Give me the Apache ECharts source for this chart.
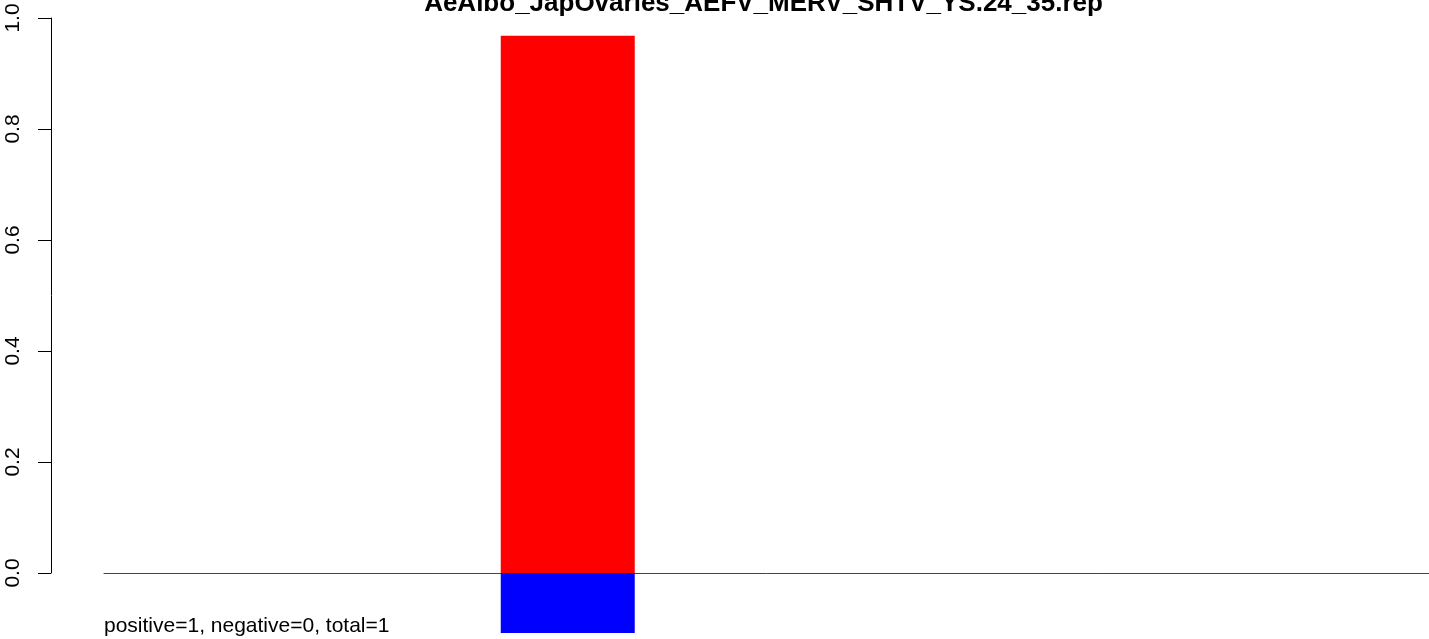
<!DOCTYPE html>
<html>
<head>
<meta charset="utf-8">
<script src="https://cdn.jsdelivr.net/npm/echarts@6/dist/echarts.min.js"></script>
<style>
html,body{margin:0;padding:0;background:#fff;}
#chart{width:1429px;height:639px;}
</style>
</head>
<body>
<div id="chart"></div>
<script>
const titleText = "AeAlbo_JapOvaries_AEFV_MERV_SHTV_YS.24_35.rep";
const footText = "positive=1, negative=0, total=1";
const categories = ["1","2","3","4","5","6","7","8","9","10"];
const positiveValues = [null, null, null, 0.968, null, null, null, null, null, null];
const negativeValues = [null, null, null, -0.108, null, null, null, null, null, null];
const yTicks = [0, 0.2, 0.4, 0.6, 0.8, 1.0];

const FONT = "'Liberation Sans', Arial, Helvetica, sans-serif";
const chart = echarts.init(document.getElementById('chart'), null, {renderer: 'canvas'});

// data axis range so that 0 sits at y=573 and 1 at y=18, grid reaching the bottom edge
const dataMin = -(639 - 573) / 555;

chart.setOption({
  animation: false,
  backgroundColor: '#ffffff',
  graphic: [{
    type: 'text',
    x: 763.5,
    y: 4,
    style: {
      text: titleText,
      font: "bold 26px " + FONT,
      fill: '#000',
      textAlign: 'center',
      textVerticalAlign: 'middle'
    }
  }, {
    type: 'text',
    x: 104,
    y: 626,
    style: {
      text: footText,
      font: "21px " + FONT,
      fill: '#000',
      textAlign: 'left',
      textVerticalAlign: 'middle'
    }
  }],
  grid: [
    {left: 51, right: 0, top: 18, height: 555, containLabel: false},
    {left: 104, right: 0, top: 18, bottom: 0, containLabel: false}
  ],
  xAxis: [
    {gridIndex: 0, type: 'value', show: false},
    {gridIndex: 1, type: 'category', data: categories,
     axisLine: {show: true, onZero: true, lineStyle: {color: '#444', width: 1}},
     axisTick: {show: false}, axisLabel: {show: false}, splitLine: {show: false}}
  ],
  yAxis: [
    {gridIndex: 0, type: 'value', min: yTicks[0], max: yTicks[yTicks.length - 1], interval: 0.2,
     axisLine: {show: true, lineStyle: {color: '#000', width: 1}},
     axisTick: {show: true, length: 13, lineStyle: {color: '#000', width: 1}},
     axisLabel: {show: true, rotate: 90, margin: 27, fontFamily: FONT, fontSize: 21, color: '#000',
       formatter: v => v.toFixed(1)},
     splitLine: {show: false}},
    {gridIndex: 1, type: 'value', min: dataMin, max: 1, show: false, splitLine: {show: false}}
  ],
  series: [
    {type: 'bar', name: 'positive', xAxisIndex: 1, yAxisIndex: 1, data: positiveValues,
     barWidth: 134, barGap: '-100%', itemStyle: {color: '#ff0000'}},
    {type: 'bar', name: 'negative', xAxisIndex: 1, yAxisIndex: 1, data: negativeValues,
     barWidth: 134, barGap: '-100%', itemStyle: {color: '#0000ff'}}
  ]
});
</script>
</body>
</html>
